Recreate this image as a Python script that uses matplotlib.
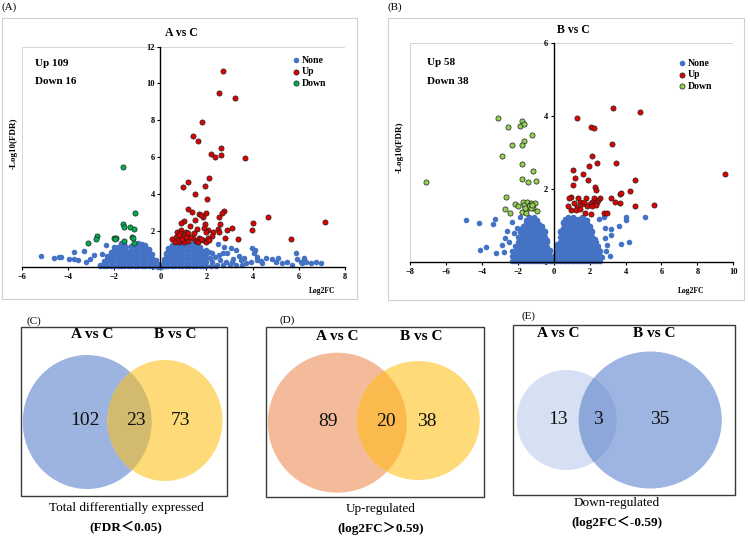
import matplotlib
matplotlib.use("Agg")
import matplotlib.pyplot as plt
from matplotlib.patches import Ellipse, Rectangle
from matplotlib.font_manager import FontProperties

SERIF = ["Liberation Serif", "Noto Sans CJK SC"]
plt.rcParams["font.family"] = SERIF

# ---------------- volcano data, panel A (A vs C) ----------------
up_a = [(2.70, 10.69), (2.55, 9.49), (3.23, 9.20), (1.80, 7.92), (1.40, 7.16), (1.62, 6.88),
        (2.63, 6.47), (2.63, 6.10), (2.19, 6.14), (2.37, 5.98), (3.67, 5.92), (2.09, 4.87),
        (1.18, 4.62), (1.00, 4.35), (1.93, 4.42), (1.50, 3.97), (2.01, 3.71), (1.21, 3.17),
        (1.37, 2.99), (1.66, 2.90), (1.98, 2.97), (1.86, 2.75), (1.76, 2.84), (2.77, 3.08),
        (2.67, 2.93), (2.55, 2.72), (1.04, 2.54), (0.89, 2.43), (1.50, 2.57), (1.30, 2.25),
        (1.95, 2.36), (2.57, 2.36), (4.03, 2.43), (4.68, 2.72), (7.14, 2.45), (3.10, 2.12),
        (2.87, 2.03), (3.97, 2.03), (2.48, 2.07), (2.08, 2.03), (1.90, 2.12), (1.59, 2.07),
        (0.89, 2.03), (0.71, 1.94), (1.11, 1.90), (1.98, 1.94), (2.27, 1.94), (2.55, 1.90),
        (2.80, 1.58), (3.38, 1.54), (5.66, 1.54), (2.22, 1.72), (1.69, 1.58), (1.40, 1.58),
        (1.83, 1.49), (1.98, 1.39), (2.05, 1.58), (0.53, 1.52), (0.68, 1.67), (0.89, 1.67),
        (1.04, 1.76), (0.82, 1.39), (1.01, 1.39), (1.18, 1.45), (0.75, 1.49), (0.94, 1.52),
        (1.28, 1.63), (0.65, 1.36), (1.11, 1.63), (1.54, 1.45), (1.65, 1.39), (1.75, 1.52),
        (2.12, 1.49), (0.87, 1.85), (0.79, 1.76), (1.21, 1.85), (1.47, 1.85)]
down_a = [(-1.60, 5.43), (-1.08, 2.93), (-1.63, 2.36), (-1.56, 2.21), (-1.30, 2.21),
          (-1.13, 2.07), (-2.74, 1.72), (-2.79, 1.54), (-3.15, 1.34), (-1.99, 1.61),
          (-1.92, 1.61), (-1.56, 1.41), (-1.23, 1.63), (-1.17, 1.59), (-1.13, 1.30),
          (-1.95, 1.56)]
# dense part of the blue cloud, read column by column
none_a_cols = [
    (-2.6, [0.05, 0.15]), (-2.45, [0.05, 0.25, 0.35]), (-2.3, [0.05, 0.27, 0.45, 0.6]),
    (-2.15, [0.05, 0.27, 0.49, 0.7, 0.85]), (-2.0, [0.05, 0.27, 0.49, 0.71, 0.95]),
    (-1.85, [0.05, 0.27, 0.49, 0.71, 0.93, 1.1]),
    (-1.7, [0.05, 0.27, 0.49, 0.71, 0.93, 1.15, 1.3]),
    (-1.55, [0.05, 0.27, 0.49, 0.71, 0.93, 1.15, 1.25]),
    (-1.4, [0.05, 0.27, 0.49, 0.71, 0.85]),
    (-1.25, [0.05, 0.27, 0.49, 0.71, 0.93, 1.15]),
    (-1.1, [0.05, 0.27, 0.49, 0.71, 0.93, 1.15, 1.25]),
    (-0.95, [0.05, 0.27, 0.49, 0.71, 0.93, 1.15, 1.3]),
    (-0.8, [0.05, 0.27, 0.49, 0.71, 0.93, 1.15, 1.28]),
    (-0.65, [0.05, 0.27, 0.49, 0.71, 0.93, 1.15, 1.2]),
    (-0.5, [0.05, 0.27, 0.49, 0.71, 0.93, 1.0]), (-0.35, [0.05, 0.27, 0.49, 0.7]),
    (-0.2, [0.05, 0.25, 0.4]), (-0.1, [0.03, 0.2]),
    (0.05, [0.03, 0.15]), (0.15, [0.05, 0.27, 0.45]), (0.25, [0.05, 0.27, 0.49, 0.71, 0.8]),
    (0.35, [0.05, 0.27, 0.49, 0.71, 0.93, 1.05]),
    (0.5, [0.05, 0.27, 0.49, 0.71, 0.93, 1.15, 1.2]),
    (0.65, [0.05, 0.27, 0.49, 0.71, 0.93, 1.15, 1.25]),
    (0.8, [0.05, 0.27, 0.49, 0.71, 0.93, 1.15, 1.28]),
    (0.95, [0.05, 0.27, 0.49, 0.71, 0.93, 1.15, 1.25]),
    (1.1, [0.05, 0.27, 0.49, 0.71, 0.93, 1.15, 1.28]),
    (1.25, [0.05, 0.27, 0.49, 0.71, 0.93, 1.15, 1.25]),
    (1.4, [0.05, 0.27, 0.49, 0.71, 0.93, 1.15, 1.3]),
    (1.55, [0.05, 0.27, 0.49, 0.71, 0.93, 1.15, 1.22]),
    (1.7, [0.05, 0.27, 0.49, 0.71, 0.93, 1.1]), (1.85, [0.05, 0.27, 0.49, 0.71, 0.9]),
    (2.0, [0.05, 0.27, 0.49, 0.7])]
none_a = [(-5.17, 0.61), (-4.62, 0.49), (-4.38, 0.54), (-4.28, 0.54), (-3.94, 0.43),
          (-3.73, 0.43), (-3.58, 0.40), (-3.72, 0.81), (-3.32, 0.90), (-3.22, 0.30),
          (-3.03, 0.43), (-2.86, 0.67), (-2.54, 0.72), (-2.35, 1.21), (-2.06, 0.85),
          (-2.00, 1.12), (-1.83, 1.10), (-1.69, 1.18), (-1.50, 1.12),
          (2.48, 1.25), (2.77, 1.12), (3.06, 1.07), (3.27, 0.94), (2.00, 0.94), (2.12, 0.85),
          (2.26, 0.76), (2.55, 0.67), (2.70, 0.76), (2.91, 0.79), (3.42, 0.61), (3.49, 0.40),
          (3.63, 0.49), (3.99, 1.03), (4.11, 0.94), (4.07, 0.76), (3.93, 0.31), (4.17, 0.40),
          (4.35, 0.34), (4.57, 0.49), (4.42, 0.21), (4.86, 0.43), (5.00, 0.31), (5.08, 0.49),
          (5.29, 0.21), (5.51, 0.31), (5.69, 0.12), (5.86, 0.79), (5.93, 0.43), (6.08, 0.31),
          (6.23, 0.49), (6.33, 0.31), (6.15, 0.21), (6.52, 0.25), (6.73, 0.27), (6.95, 0.25),
          (3.70, 0.25), (4.21, 0.58), (2.15, 0.50), (2.25, 0.30), (2.35, 0.55), (2.45, 0.15),
          (2.60, 0.40), (2.70, 0.10), (2.85, 0.30), (3.00, 0.15), (3.15, 0.45), (3.30, 0.10),
          (2.20, 0.08), (2.40, 0.05), (3.10, 0.28), (3.55, 0.15)]

# ---------------- volcano data, panel B (B vs C) ----------------
up_b = [(3.30, 4.22), (4.80, 4.13), (1.28, 3.95), (2.06, 3.72), (2.24, 3.67), (3.23, 3.24),
        (2.15, 2.91), (3.45, 2.73), (2.39, 2.73), (1.97, 2.64), (1.07, 2.53), (9.52, 2.42),
        (1.63, 2.42), (1.19, 2.32), (1.90, 2.26), (4.53, 2.26), (1.07, 2.12), (2.30, 2.05),
        (2.34, 1.98), (4.25, 1.94), (3.69, 1.87), (3.76, 1.91), (0.95, 1.80), (0.85, 1.77),
        (1.35, 1.75), (1.78, 1.77), (2.24, 1.75), (2.58, 1.75), (2.47, 1.71), (3.17, 1.75),
        (2.11, 1.66), (2.39, 1.66), (1.13, 1.62), (1.46, 1.66), (1.59, 1.60), (1.68, 1.64),
        (2.01, 1.60), (2.30, 1.60), (3.41, 1.66), (3.69, 1.62), (4.53, 1.53), (5.58, 1.57),
        (0.82, 1.54), (1.28, 1.51), (1.87, 1.53), (2.15, 1.55), (2.34, 1.57), (0.98, 1.42),
        (1.22, 1.43), (1.46, 1.45), (1.74, 1.34), (2.06, 1.32), (2.80, 1.34), (2.95, 1.36)]
down_b = [(-7.12, 2.19), (-3.10, 3.95), (-1.78, 3.88), (-1.89, 3.74), (-1.65, 3.78),
          (-2.52, 3.70), (-1.19, 3.49), (-1.65, 3.31), (-2.30, 3.21), (-1.74, 3.21),
          (-2.86, 2.92), (-1.78, 2.68), (-1.13, 2.51), (-1.74, 2.28), (-1.43, 2.19),
          (-1.00, 2.23), (-2.67, 1.78), (-2.15, 1.59), (-1.98, 1.55), (-1.69, 1.64),
          (-1.47, 1.64), (-1.28, 1.62), (-1.04, 1.62), (-1.34, 1.57), (-1.23, 1.53),
          (-1.13, 1.48), (-1.47, 1.48), (-1.56, 1.42), (-2.73, 1.45), (-2.43, 1.34),
          (-1.74, 1.39), (-0.91, 1.41), (-1.52, 1.34), (-1.38, 1.53), (-1.28, 1.48),
          (-1.65, 1.57), (-1.60, 1.50), (-1.20, 1.58)]
none_b_cols = [
    (-2.3, [0.04, 0.17, 0.3]), (-2.15, [0.04, 0.17, 0.3, 0.45]),
    (-2.0, [0.04, 0.17, 0.3, 0.43, 0.56, 0.7]),
    (-1.85, [0.04, 0.17, 0.3, 0.43, 0.56, 0.69, 0.82, 0.9]),
    (-1.7, [0.04, 0.17, 0.3, 0.43, 0.56, 0.69, 0.82, 0.95, 1.0]),
    (-1.55, [0.04, 0.17, 0.3, 0.43, 0.56, 0.69, 0.82, 0.95, 1.08, 1.15]),
    (-1.4, [0.04, 0.17, 0.3, 0.43, 0.56, 0.69, 0.82, 0.95, 1.08, 1.21, 1.25]),
    (-1.25, [0.04, 0.17, 0.3, 0.43, 0.56, 0.69, 0.82, 0.95, 1.08, 1.2]),
    (-1.1, [0.04, 0.17, 0.3, 0.43, 0.56, 0.69, 0.82, 0.95, 1.08, 1.21, 1.25]),
    (-0.95, [0.04, 0.17, 0.3, 0.43, 0.56, 0.69, 0.82, 0.95, 1.08, 1.15]),
    (-0.8, [0.04, 0.17, 0.3, 0.43, 0.56, 0.69, 0.82, 0.95, 1.05]),
    (-0.65, [0.04, 0.17, 0.3, 0.43, 0.56, 0.69, 0.82, 0.95, 1.0]),
    (-0.5, [0.04, 0.17, 0.3, 0.43, 0.56, 0.69, 0.82, 0.85]),
    (-0.35, [0.04, 0.17, 0.3, 0.43, 0.56, 0.6]), (-0.2, [0.04, 0.17, 0.3, 0.35]),
    (-0.08, [0.04, 0.15]),
    (0.08, [0.04, 0.17, 0.2]), (0.2, [0.04, 0.17, 0.3, 0.43, 0.5]),
    (0.35, [0.04, 0.17, 0.3, 0.43, 0.56, 0.69, 0.82, 0.85]),
    (0.5, [0.04, 0.17, 0.3, 0.43, 0.56, 0.69, 0.82, 0.95, 1.08, 1.1]),
    (0.65, [0.04, 0.17, 0.3, 0.43, 0.56, 0.69, 0.82, 0.95, 1.08, 1.2]),
    (0.8, [0.04, 0.17, 0.3, 0.43, 0.56, 0.69, 0.82, 0.95, 1.08, 1.21, 1.25]),
    (0.95, [0.04, 0.17, 0.3, 0.43, 0.56, 0.69, 0.82, 0.95, 1.08, 1.2]),
    (1.1, [0.04, 0.17, 0.3, 0.43, 0.56, 0.69, 0.82, 0.95, 1.08, 1.21, 1.25]),
    (1.25, [0.04, 0.17, 0.3, 0.43, 0.56, 0.69, 0.82, 0.95, 1.08, 1.2]),
    (1.4, [0.04, 0.17, 0.3, 0.43, 0.56, 0.69, 0.82, 0.95, 1.08, 1.2]),
    (1.55, [0.04, 0.17, 0.3, 0.43, 0.56, 0.69, 0.82, 0.95, 1.08, 1.21, 1.25]),
    (1.7, [0.04, 0.17, 0.3, 0.43, 0.56, 0.69, 0.82, 0.95, 1.08, 1.2]),
    (1.85, [0.04, 0.17, 0.3, 0.43, 0.56, 0.69, 0.82, 0.95, 1.08, 1.15]),
    (2.0, [0.04, 0.17, 0.3, 0.43, 0.56, 0.69, 0.82, 0.95, 1.0]),
    (2.15, [0.04, 0.17, 0.3, 0.43, 0.56, 0.69, 0.82, 0.85]),
    (2.3, [0.04, 0.17, 0.3, 0.43, 0.56, 0.65]), (2.45, [0.04, 0.17, 0.3, 0.45]),
    (2.6, [0.04, 0.17, 0.3])]
none_b = [(-4.90, 1.16), (-4.16, 1.09), (-3.29, 1.18), (-3.36, 1.04), (-4.12, 0.34),
          (-3.75, 0.41), (-3.23, 0.25), (-2.77, 0.29), (-2.58, 0.86), (-2.21, 0.79),
          (-1.89, 1.25), (-2.30, 1.10), (-2.71, 0.66), (-2.49, 0.56), (-2.90, 0.47),
          (-2.03, 0.93),
          (2.52, 1.18), (2.80, 1.25), (4.01, 1.25), (4.01, 1.16), (5.08, 1.23), (3.64, 0.99),
          (2.86, 0.93), (3.21, 0.90), (3.17, 0.75), (2.86, 0.66), (3.73, 0.49), (4.19, 0.55),
          (3.13, 0.17), (2.71, 0.14), (2.15, 0.70), (2.34, 0.56), (2.99, 0.47), (2.52, 0.34),
          (2.90, 0.30), (2.24, 0.20)]

# ---------------- Venn data ----------------
venn_labels = ["(C)", "(D)", "(E)"]
venn_sets = ["A vs C", "B vs C"]
venn_counts = [[102, 23, 73], [89, 20, 38], [13, 3, 35]]
venn_caption1 = ["Total differentially expressed", "Up-regulated", "Down-regulated"]
venn_caption2 = ["(FDR\uff1c0.05)", "(log2FC\uff1e0.59)", "(log2FC\uff1c-0.59)"]

W, H = 750, 543
fig = plt.figure(figsize=(7.5, 5.43), dpi=100)

# overlay axes in pixel coordinates for frames, venns and free text
ov = fig.add_axes([0, 0, 1, 1])
ov.set_xlim(0, W)
ov.set_ylim(H, 0)
ov.axis("off")


def px_rect(x0, y0, x1, y1):
    return [x0 / W, 1 - y1 / H, (x1 - x0) / W, (y1 - y0) / H]


def unzip(pts):
    return [p[0] for p in pts], [p[1] for p in pts]


def cols_to_pts(cols):
    return [(x, y) for x, ys in cols for y in ys]


bold_small = FontProperties(family=SERIF, weight="bold", size=6)


def volcano(rect, xlim, ylim, xticks, yticks, none_cols, none_pts, up, down, down_col,
            leg_xy, title, title_xy, stats_xy, n_up, n_down, xlab_xy, ylab_xy, letter, frame):
    # light grey panel frame
    ov.add_patch(Rectangle((frame[0], frame[1]), frame[2] - frame[0], frame[3] - frame[1],
                           fill=False, ec="#d0d0d0", lw=0.8))
    ov.text(frame[0], 7, letter, fontsize=8, va="center", ha="left")
    ax = fig.add_axes(rect)
    ax.patch.set_alpha(0)
    nx, ny = unzip(cols_to_pts(none_cols) + none_pts)
    ux, uy = unzip(up)
    dx, dy = unzip(down)
    ax.scatter(nx, ny, s=16, c="#4472C4", lw=0, label="None", zorder=2, clip_on=False)
    ax.scatter(ux, uy, s=14, c="#E00000", edgecolors="#222222", lw=0.5, label="Up", zorder=3)
    ax.scatter(dx, dy, s=14, c=down_col, edgecolors="#222222", lw=0.5, label="Down", zorder=3)
    ax.set_xlim(*xlim)
    ax.set_ylim(*ylim)
    ax.spines["left"].set_position(("data", 0))
    for s in ["top", "right"]:
        ax.spines[s].set_visible(False)
    ax.spines["left"].set_linewidth(1.0)
    ax.spines["bottom"].set_linewidth(1.0)
    ax.add_patch(Rectangle((0, 0), 1, 1, transform=ax.transAxes, fill=False,
                           ec="#cfcfcf", lw=0.6, zorder=0))
    ax.set_xticks(xticks)
    ax.set_yticks(yticks)
    ax.tick_params(length=2.5, width=0.8, pad=1.5)
    for lab in ax.get_xticklabels() + ax.get_yticklabels():
        lab.set_fontproperties(bold_small)
    ax.legend(loc="upper left", bbox_to_anchor=(leg_xy[0] / W, 1 - leg_xy[1] / H),
              bbox_transform=fig.transFigure, frameon=False, borderpad=0,
              handlelength=0.8, handletextpad=0.2, labelspacing=0.25, borderaxespad=0,
              prop=FontProperties(family=SERIF, weight="bold", size=7))
    ov.text(title_xy[0], title_xy[1], title, fontsize=8.5, fontweight="bold",
            ha="center", va="center")
    ov.text(stats_xy[0], stats_xy[1], "Up " + str(n_up), fontsize=8, fontweight="bold",
            ha="left", va="center")
    ov.text(stats_xy[0], stats_xy[1] + 18.5, "Down " + str(n_down), fontsize=8,
            fontweight="bold", ha="left", va="center")
    ov.text(xlab_xy[0], xlab_xy[1], "Log2FC", fontsize=5.5, fontweight="bold",
            ha="center", va="center")
    ov.text(ylab_xy[0], ylab_xy[1], "-Log10(FDR)", fontsize=6.5, fontweight="bold",
            ha="center", va="center", rotation=90)
    return ax


volcano(px_rect(21.7, 46.7, 345, 267.3), (-6, 8), (0, 12), range(-6, 9, 2), range(0, 13, 2),
        none_a_cols, none_a, up_a, down_a, "#00B050", (292, 56), "A vs C", (181.7, 33.3),
        (35, 63.3), 109, 16, (322, 291), (14, 143), "(A)", (2, 18, 357, 299))
volcano(px_rect(410, 43.3, 733.3, 262.3), (-8, 10), (0, 6), range(-8, 11, 2), range(0, 7, 2),
        none_b_cols, none_b, up_b, down_b, "#92D050", (678, 59), "B vs C", (573.3, 30),
        (426.7, 62.7), 58, 38, (691, 291), (400, 147), "(B)", (388, 18, 744, 300))

# ---------------- Venn panels ----------------
venn_geo = [
    dict(box=(20.7, 326.7, 226.7, 495.7), e1=(87.2, 422, 129, 134), e2=(165, 420.5, 115, 121),
         c1="#9DB4E0", c2="#FFDA78", c12="#D2BB6E", lab=(34, 320.7),
         sets=((92.7, 335), (175, 335)), nums=(85, 136, 180), ny=420.7, cap=(126, 508, 526.7)),
    dict(box=(266, 326.7, 484, 496.7), e1=(337.3, 422.7, 139, 140), e2=(418.3, 420.5, 123, 119),
         c1="#F3BB9A", c2="#FFDA78", c12="#FBBA4E", lab=(287, 320),
         sets=((337.3, 336), (421.7, 336.7)), nums=(328, 386, 426.7), ny=421.7,
         cap=(380.7, 509, 528.3)),
    dict(box=(512.7, 325, 735, 495), e1=(566.7, 420, 100, 100), e2=(650.3, 420, 143, 137),
         c1="#D6E0F3", c2="#9FB5E1", c12="#8EA7DA", lab=(528, 316),
         sets=((558.3, 333.3), (654, 333.3)), nums=(558.3, 598.3, 660), ny=419.3,
         cap=(616.7, 503.3, 522.7)),
]

for i, g in enumerate(venn_geo):
    x0, y0, x1, y1 = g["box"]
    ov.add_patch(Rectangle((x0, y0), x1 - x0, y1 - y0, fill=False, ec="#3a3a3a", lw=1.0))
    cx, cy, w, h = g["e1"]
    e1 = Ellipse((cx, cy), w, h, fc=g["c1"], ec="none")
    ov.add_patch(e1)
    cx, cy, w, h = g["e2"]
    ov.add_patch(Ellipse((cx, cy), w, h, fc=g["c2"], ec="none"))
    inter = Ellipse((cx, cy), w, h, fc=g["c12"], ec="none")
    ov.add_patch(inter)
    inter.set_clip_path(e1)
    ov.text(g["lab"][0], g["lab"][1], venn_labels[i], fontsize=8, ha="center", va="center")
    for (tx, ty), name in zip(g["sets"], venn_sets):
        ov.text(tx, ty, name, fontsize=11, fontweight="bold", ha="center", va="center")
    for tx, n in zip(g["nums"], venn_counts[i]):
        ov.text(tx, g["ny"], str(n), fontsize=14, ha="center", va="center", color="#111111")
    ov.text(g["cap"][0], g["cap"][1], venn_caption1[i], fontsize=9.5, ha="center", va="center")
    ov.text(g["cap"][0], g["cap"][2], venn_caption2[i], fontsize=9.5, fontweight="bold",
            ha="center", va="center")

fig.savefig("out.png", dpi=100)
